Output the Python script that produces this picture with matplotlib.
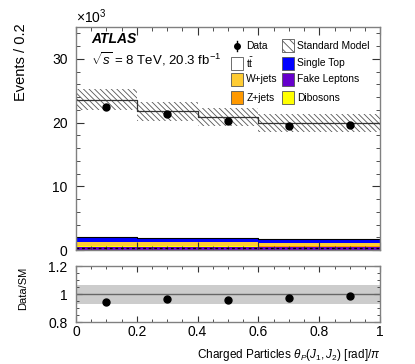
import numpy as np
import matplotlib
matplotlib.use("Agg")
import matplotlib.pyplot as plt
from matplotlib.patches import Rectangle
from matplotlib.ticker import MultipleLocator

plt.rcParams['font.family'] = ['Liberation Sans', 'DejaVu Sans']
plt.rcParams['mathtext.fontset'] = 'custom'
plt.rcParams['mathtext.rm'] = 'Liberation Sans'
plt.rcParams['mathtext.it'] = 'Liberation Sans:italic'
plt.rcParams['hatch.color'] = '#555555'
plt.rcParams['hatch.linewidth'] = 0.6

# Data (x10^3 events)
bin_edges = [0.0, 0.2, 0.4, 0.6, 0.8, 1.0]
fake_leptons = [0.50, 0.50, 0.50, 0.48, 0.48]
dibosons = [0.08, 0.08, 0.08, 0.07, 0.07]
z_jets = [0.10, 0.10, 0.10, 0.09, 0.09]
w_jets = [0.62, 0.55, 0.55, 0.48, 0.48]
single_top = [0.75, 0.62, 0.62, 0.62, 0.62]
sm_total = [23.6, 21.8, 20.9, 19.9, 19.95]
sm_unc = [1.6, 1.5, 1.45, 1.4, 1.4]
data = [22.4, 21.3, 20.25, 19.5, 19.65]
ratio = [0.945, 0.969, 0.960, 0.971, 0.985]
ratio_band = [0.07, 0.07, 0.07, 0.07, 0.07]

legend_labels = ['Data', 'Standard Model', r'$\mathrm{t\bar{t}}$', 'Single Top',
                 'W+jets', 'Fake Leptons', 'Z+jets', 'Dibosons']

edges = np.array(bin_edges)
centers = 0.5 * (edges[:-1] + edges[1:])

def step(vals):
    v = np.asarray(vals, float)
    return np.append(v, v[-1])

fig = plt.figure(figsize=(4.15, 3.64), dpi=100)
ax = fig.add_axes([0.183, 0.313, 0.733, 0.613])
axr = fig.add_axes([0.183, 0.115, 0.733, 0.153])

HATCH = '\\\\\\\\\\\\'
stack = [
    (fake_leptons, '#6600cc'),
    (dibosons, '#ffff00'),
    (z_jets, '#ff9900'),
    (w_jets, '#ffcc33'),
    (single_top, '#0000ff'),
]
base = np.zeros(len(centers))
for vals, col in stack:
    top = base + np.asarray(vals)
    ax.fill_between(edges, step(base), step(top), step='post', color=col, lw=0)
    base = top
ax.step(edges, step(np.asarray(fake_leptons) * 0.55), where='post', color='black',
        lw=1.0, ls=(0, (2, 2)))
ax.step(edges, step(base), where='post', color='black', lw=0.8)

sm = np.asarray(sm_total)
unc = np.asarray(sm_unc)
ax.fill_between(edges, step(sm - unc), step(sm + unc), step='post',
                facecolor='none', edgecolor='#555555', hatch=HATCH, lw=0)
ax.step(edges, step(sm), where='post', color='#333333', lw=0.9)

ax.plot(centers, data, 'o', color='black', ms=5)

ax.set_xlim(0, 1)
ax.set_ylim(0, 35)
ax.yaxis.set_major_locator(MultipleLocator(10))
ax.yaxis.set_minor_locator(MultipleLocator(2))
ax.xaxis.set_major_locator(MultipleLocator(0.2))
ax.xaxis.set_minor_locator(MultipleLocator(0.05))
ax.set_xticklabels([])
ax.set_ylabel('Events / 0.2', fontsize=10.5)
ax.yaxis.set_label_coords(-0.158, 0.84)

ax.text(0.0, 1.005, r'$\times10^{3}$', transform=ax.transAxes, fontsize=10,
        ha='left', va='bottom')
ax.text(0.05, 0.945, 'ATLAS', transform=ax.transAxes, fontsize=10,
        fontweight='bold', fontstyle='italic', ha='left', va='center')
ax.text(0.05, 0.855, r'$\sqrt{s}$ = 8 TeV, 20.3 fb$^{-1}$', transform=ax.transAxes,
        fontsize=9.5, ha='left', va='center')

# manual legend (pixel layout converted to axes fraction)
def axpos(px, py):
    return (px - 76) / 304.0, (250 - py) / 223.0

rows = [45.7, 63.3, 79.3, 97.7]
cols = [(230.7, 245.7), (281.7, 296.7)]
faces = [None, 'hatch', 'white', '#0000ff', '#ffcc33', '#6600cc', '#ff9900', '#ffff00']
for i, lab in enumerate(legend_labels):
    r, c = divmod(i, 2)
    bx, tx = cols[c]
    py = rows[r]
    if faces[i] is None:
        x, y = axpos(bx + 6.3, py)
        ax.plot([x], [y], 'o', color='black', ms=4, transform=ax.transAxes, clip_on=False)
        x0, y0 = axpos(bx + 6.3, py - 5)
        x1, y1 = axpos(bx + 6.3, py + 5)
        ax.plot([x0, x1], [y0, y1], color='black', lw=1, transform=ax.transAxes)
    else:
        x0, y0 = axpos(bx, py + 6.5)
        x1, y1 = axpos(bx + 12.6, py - 6.5)
        if faces[i] == 'hatch':
            rect = Rectangle((x0, y0), x1 - x0, y1 - y0, transform=ax.transAxes,
                             facecolor='white', edgecolor='#555555', hatch='\\\\\\\\', lw=0.6)
        else:
            rect = Rectangle((x0, y0), x1 - x0, y1 - y0, transform=ax.transAxes,
                             facecolor=faces[i], edgecolor='#555555', lw=0.6)
        ax.add_patch(rect)
    tx_, ty_ = axpos(tx + 0.5, py)
    ax.text(tx_, ty_, lab, transform=ax.transAxes, fontsize=7.4, ha='left', va='center')

# ratio panel
rb = np.asarray(ratio_band)
axr.fill_between(edges, step(1 - rb), step(1 + rb), step='post', color='#cccccc', lw=0)
axr.axhline(1.0, color='#666666', lw=1.0)
axr.plot(centers, ratio, 'o', color='black', ms=5)
axr.set_xlim(0, 1)
axr.set_ylim(0.8, 1.2)
axr.yaxis.set_minor_locator(MultipleLocator(0.05))
axr.xaxis.set_minor_locator(MultipleLocator(0.05))
axr.set_yticks([0.8, 1.0, 1.2])
axr.set_yticklabels(['0.8', '1', '1.2'])
axr.set_xticks([0, 0.2, 0.4, 0.6, 0.8, 1.0])
axr.set_xticklabels(['0', '0.2', '0.4', '0.6', '0.8', '1'])
axr.set_ylabel('Data/SM', fontsize=8)
axr.yaxis.set_label_coords(-0.158, 0.6)
axr.set_xlabel(r'Charged Particles $\theta_{P}(J_{1},J_{2})$ [rad]/$\pi$',
               fontsize=8.5, ha='right', x=1.0, labelpad=6)

for a in (ax, axr):
    a.tick_params(which='both', direction='in', top=True, right=True, labelsize=10,
                  color='#333333', pad=6)
    a.tick_params(which='major', length=6)
    a.tick_params(which='minor', length=3)
    for s in a.spines.values():
        s.set_color('#808080')
        s.set_linewidth(1.0)
axr.tick_params(which='major', length=4)
axr.tick_params(which='minor', length=2)
axr.tick_params(axis='x', pad=2)

fig.savefig('out.png', dpi=100)
